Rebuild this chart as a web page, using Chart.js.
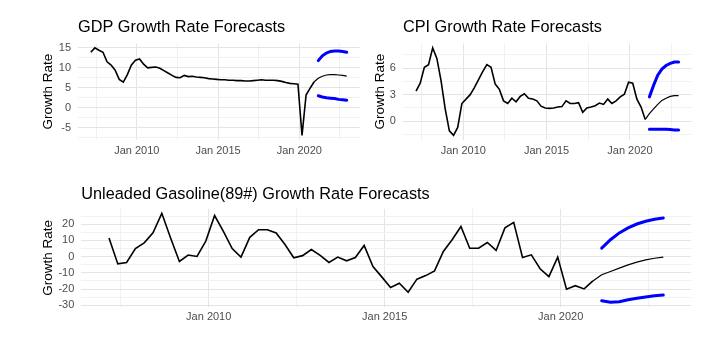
<!DOCTYPE html>
<html lang="en">
<head>
  <meta charset="UTF-8">
  <title>Growth Rate Forecasts</title>
  <script src="https://cdn.jsdelivr.net/npm/chart.js"></script>
  <style>
    body { margin: 0; background: #ffffff; }
    .panel { position: absolute; }
    #gdpBox { left: 0; top: 0; }
    #cpiBox { left: 361px; top: 0; }
    #gasBox { left: 0; top: 165px; }
  </style>
</head>
<body>
  <div class="panel" id="gdpBox"><canvas id="gdpChart" width="361" height="165"></canvas></div>
  <div class="panel" id="cpiBox"><canvas id="cpiChart" width="361" height="165"></canvas></div>
  <div class="panel" id="gasBox"><canvas id="gasChart" width="722" height="174"></canvas></div>

  <script>
    // quarterly data 2007Q1 .. 2020Q4, then 8 forecast quarters 2021Q1 .. 2022Q4
    const firstYear = 2007;
    const actualCount = 56;
    const forecastCount = 8;

    const gdpActual = [
      13.9, 15.0, 14.4, 13.9, 11.5, 10.7, 9.4, 7.1,
      6.4, 8.3, 10.7, 11.9, 12.2, 10.9, 10.0, 10.1,
      10.2, 9.9, 9.3, 8.7, 8.1, 7.6, 7.5, 8.1,
      7.8, 7.9, 7.7, 7.6, 7.5, 7.3, 7.2, 7.1,
      7.0, 7.0, 6.9, 6.9, 6.8, 6.8, 6.7, 6.7,
      6.8, 6.9, 7.0, 6.9, 6.9, 6.9, 6.8, 6.6,
      6.3, 6.1, 6.0, 5.9, -6.9, 3.2, 4.9, 6.5
    ];
    const gdpMean = [7.4, 7.9, 8.2, 8.3, 8.3, 8.2, 8.1, 7.9];
    const gdpUpper = [11.8, 13.0, 13.7, 14.1, 14.2, 14.2, 14.1, 13.9];
    const gdpLower = [3.0, 2.7, 2.5, 2.4, 2.3, 2.1, 2.0, 1.9];

    const cpiActual = [
      3.4, 4.3, 6.1, 6.4, 8.3, 7.1, 4.6, 1.4,
      -1.1, -1.6, -0.7, 2.0, 2.5, 3.0, 3.8, 4.7,
      5.6, 6.4, 6.1, 4.2, 3.6, 2.3, 2.0, 2.6,
      2.2, 2.8, 3.1, 2.6, 2.5, 2.3, 1.7, 1.5,
      1.45, 1.5, 1.6, 1.65, 2.3, 2.0, 2.0, 2.1,
      1.0, 1.5, 1.6, 1.75, 2.05, 1.9, 2.5, 2.0,
      2.3, 2.75, 3.05, 4.4, 4.3, 2.5, 1.6, 0.2
    ];
    const cpiMean = [0.85, 1.4, 1.9, 2.35, 2.6, 2.8, 2.9, 2.9];
    const cpiUpper = [2.75, 4.05, 5.2, 5.9, 6.3, 6.55, 6.7, 6.7];
    const cpiLower = [-0.9, -0.9, -0.9, -0.9, -0.9, -0.95, -1.0, -1.0];

    const gasActual = [
      11.5, -4.5, -3.6, 5.0, 8.5, 14.7, 26.7, 11.5,
      -3.0, 1.0, 0.1, 9.6, 25.3, 15.5, 5.0, -0.3,
      11.9, 16.6, 16.6, 14.6, 7.5, -0.7, 0.6, 4.4,
      0.8, -3.6, -0.3, -2.6, -0.6, 6.9, -6.1, -12.5,
      -19.1, -16.4, -22.0, -13.9, -11.7, -8.8, 3.2, 10.4,
      18.6, 5.2, 5.2, 8.7, 3.8, 17.7, 21.1, -0.5,
      1.1, -7.5, -12.3, -0.3, -20.1, -17.9, -19.9, -15.0
    ];
    const gasMean = [-11.2, -9.2, -7.1, -5.1, -3.4, -2.0, -1.0, -0.3];
    const gasUpper = [5.2, 10.4, 14.6, 17.7, 20.1, 21.8, 23.0, 23.8];
    const gasLower = [-27.2, -28.2, -27.8, -26.6, -25.7, -24.9, -24.1, -23.7];

    // axis ticks: labelled ones and the unlabelled minor ones in between
    const yearTicks = [2007.5, 2010, 2012.5, 2015, 2017.5, 2020, 2022.5];
    const yearLabels = [2010, 2015, 2020];
    const gdpTicks = [-7.5, -5, -2.5, 0, 2.5, 5, 7.5, 10, 12.5, 15];
    const gdpLabels = [-5, 0, 5, 10, 15];
    const cpiTicks = [-1.5, 0, 1.5, 3, 4.5, 6, 7.5];
    const cpiLabels = [0, 3, 6];
    const gasTicks = [-30, -25, -20, -15, -10, -5, 0, 5, 10, 15, 20, 25];
    const gasLabels = [-30, -20, -10, 0, 10, 20];

    Chart.defaults.font.family = "'Liberation Sans', Arial, sans-serif";

    // points sit on the last month of each quarter (Mar, Jun, Sep, Dec)
    const quarterX = [];
    for (let i = 0; i < actualCount + forecastCount; i++) {
      const year = firstYear + Math.floor(i / 4);
      const q = i % 4 + 1;
      quarterX.push(year + (3 * q - 1) / 12);
    }

    function makeChart(id, title, actual, mean, upper, lower, yTicks, yLabels, box) {
      const line = actual.concat(mean).map((v, i) => ({ x: quarterX[i], y: v }));
      const up = upper.map((v, i) => ({ x: quarterX[actualCount + i], y: v }));
      const low = lower.map((v, i) => ({ x: quarterX[actualCount + i], y: v }));

      const ys = line.concat(up, low).map(p => p.y);
      const yMin = Math.min(...ys), yMax = Math.max(...ys);
      const yPad = (yMax - yMin) * 0.05;
      const xMin = quarterX[0], xMax = quarterX[quarterX.length - 1];
      const xPad = (xMax - xMin) * 0.05;

      const gridColor = (labels) => (ctx) =>
        ctx.tick && labels.includes(ctx.tick.value) ? '#E4E4E4' : '#F1F1F1';

      return new Chart(document.getElementById(id), {
        type: 'line',
        data: {
          datasets: [
            {
              data: line,
              borderColor: '#000000',
              borderWidth: 1.6,
              segment: { borderWidth: ctx => ctx.p0DataIndex >= actualCount - 1 ? 1.2 : 1.6 }
            },
            { data: up, borderColor: '#0000FF', borderWidth: 3, borderCapStyle: 'round' },
            { data: low, borderColor: '#0000FF', borderWidth: 3, borderCapStyle: 'round' }
          ]
        },
        options: {
          responsive: false,
          animation: false,
          layout: { padding: { left: 0, right: box.right, top: 0, bottom: 0 } },
          elements: { point: { radius: 0 }, line: { tension: 0 } },
          plugins: {
            legend: { display: false },
            tooltip: { enabled: false },
            title: {
              display: true,
              text: title,
              align: 'start',
              fullSize: false,
              color: '#000000',
              font: { size: 16.3, weight: 'normal' },
              padding: { top: box.titleTop, bottom: box.titleBottom }
            }
          },
          scales: {
            x: {
              type: 'linear',
              min: xMin - xPad,
              max: xMax + xPad,
              afterBuildTicks: s => { s.ticks = yearTicks.map(v => ({ value: v })); },
              afterFit: s => { s.height = box.xHeight; },
              ticks: {
                autoSkip: false,
                maxRotation: 0,
                padding: box.xTickPad,
                color: '#4D4D4D',
                font: { size: 11 },
                callback: v => yearLabels.includes(v) ? 'Jan ' + v : ''
              },
              grid: { color: gridColor(yearLabels), lineWidth: 1, drawTicks: false },
              border: { display: false }
            },
            y: {
              type: 'linear',
              min: yMin - yPad,
              max: yMax + yPad,
              afterBuildTicks: s => { s.ticks = yTicks.map(v => ({ value: v })); },
              afterFit: s => { s.width = box.yWidth; },
              ticks: {
                autoSkip: false,
                padding: 7,
                color: '#4D4D4D',
                font: { size: 11 },
                callback: v => yLabels.includes(v) ? String(v) : ''
              },
              grid: { color: gridColor(yLabels), lineWidth: 1, drawTicks: false },
              border: { display: false },
              title: {
                display: true,
                text: 'Growth Rate',
                color: '#000000',
                font: { size: 13.5 },
                padding: { top: box.yTitlePad, bottom: 0 }
              }
            }
          }
        }
      });
    }

    makeChart('gdpChart', 'GDP Growth Rate Forecasts', gdpActual, gdpMean, gdpUpper, gdpLower,
      gdpTicks, gdpLabels,
      { right: 1.5, titleTop: 17.7, titleBottom: 6.2, xHeight: 25.3, xTickPad: 4.7, yWidth: 78, yTitlePad: 39.9 });

    makeChart('cpiChart', 'CPI Growth Rate Forecasts', cpiActual, cpiMean, cpiUpper, cpiLower,
      cpiTicks, cpiLabels,
      { right: 30.3, titleTop: 17.7, titleBottom: 6.2, xHeight: 25.3, xTickPad: 4.7, yWidth: 41.9, yTitlePad: 10.9 });

    makeChart('gasChart', 'Unleaded Gasoline(89#) Growth Rate Forecasts', gasActual, gasMean, gasUpper, gasLower,
      gasTicks, gasLabels,
      { right: 31, titleTop: 19.9, titleBottom: 4.4, xHeight: 32.2, xTickPad: 3.9, yWidth: 81.3, yTitlePad: 40.2 });
  </script>
</body>
</html>
